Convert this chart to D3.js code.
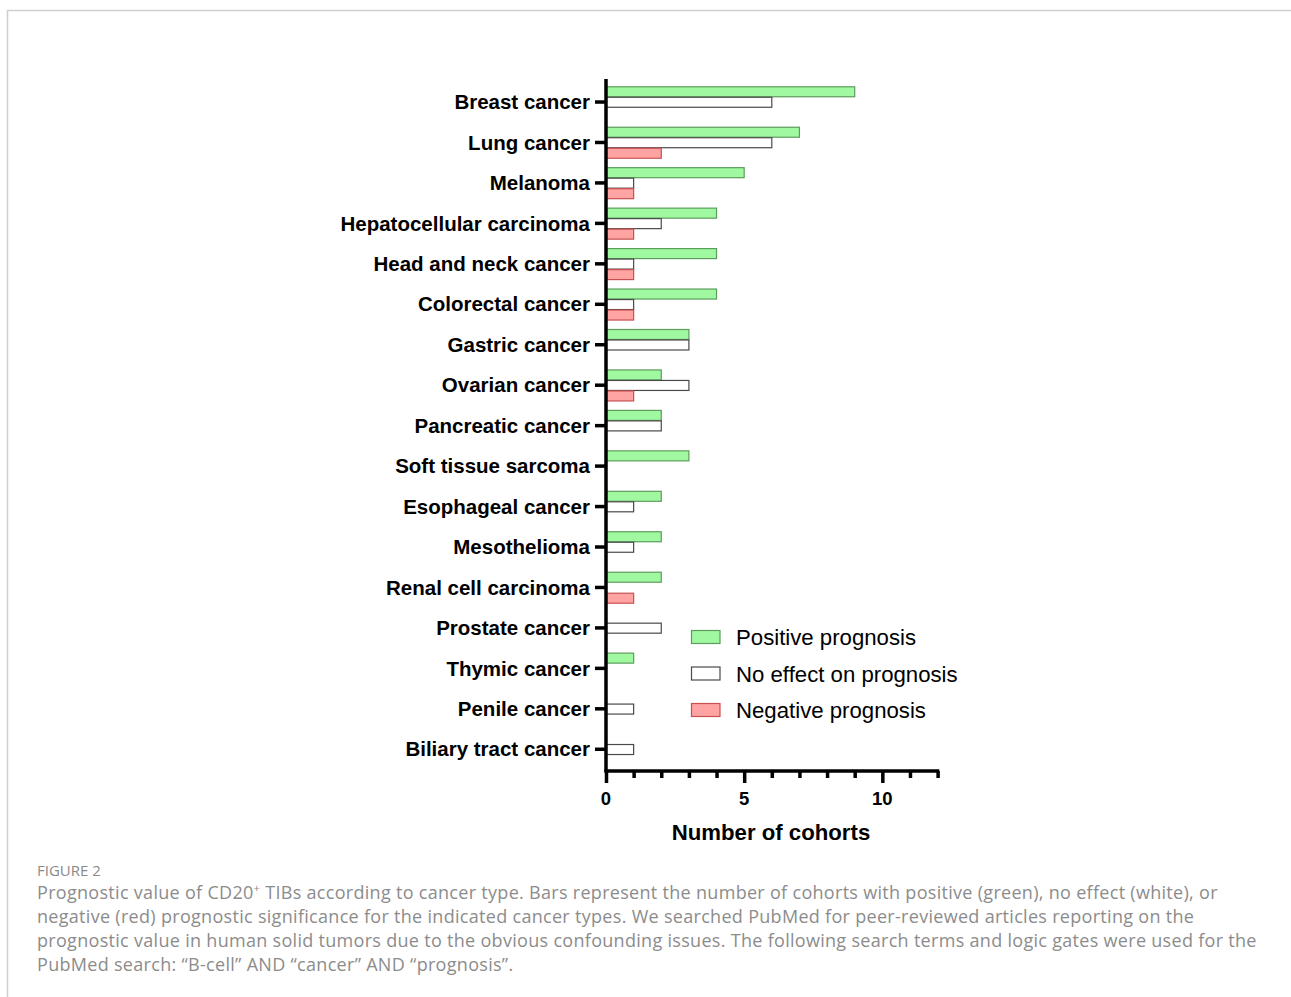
<!DOCTYPE html>
<html><head><meta charset="utf-8">
<script src="https://cdn.jsdelivr.net/npm/d3@7"></script>
<style>body{margin:0;background:#fff}</style>
</head><body>
<svg id="c" width="1291" height="997"></svg>
<script>
const categories = ["Breast cancer","Lung cancer","Melanoma","Hepatocellular carcinoma","Head and neck cancer","Colorectal cancer","Gastric cancer","Ovarian cancer","Pancreatic cancer","Soft tissue sarcoma","Esophageal cancer","Mesothelioma","Renal cell carcinoma","Prostate cancer","Thymic cancer","Penile cancer","Biliary tract cancer"];
const positive = [9,7,5,4,4,4,3,2,2,3,2,2,2,0,1,0,0];
const noEffect = [6,6,1,2,1,1,3,3,2,0,1,1,0,2,0,1,1];
const negative = [0,2,1,1,1,1,0,1,0,0,0,0,1,0,0,0,0];
const seriesNames = ["Positive prognosis","No effect on prognosis","Negative prognosis"];
const xTicks = [0,5,10];
const captionTitle = "FIGURE 2";
const captionLines = [
 "Prognostic value of CD20<sup>+</sup> TIBs according to cancer type. Bars represent the number of cohorts with positive (green), no effect (white), or",
 "negative (red) prognostic significance for the indicated cancer types. We searched PubMed for peer-reviewed articles reporting on the",
 "prognostic value in human solid tumors due to the obvious confounding issues. The following search terms and logic gates were used for the",
 "PubMed search: \u201cB-cell\u201d AND \u201ccancer\u201d AND \u201cprognosis\u201d."
];

const svg = d3.select("#c");
const fills = ["#a0f9a0","#ffffff","#ffa3a3"];
const strokes = ["#5c9c5c","#4a4a4a","#c85050"];
const series = [positive, noEffect, negative];
const FONT = "Liberation Sans, Arial, sans-serif";

// frame
svg.append("path").attr("d","M7.5,997 V10.5 H1291").attr("fill","none").attr("stroke","#cfcfcf").attr("stroke-width",1.5);

const x = d3.scaleLinear().domain([0,12]).range([606, 937.6]);
const y = d3.scaleBand().domain(categories).range([81.8, 769.5]).padding(0);
const sub = d3.scaleBand().domain([0,1,2]).range([-15.75, 15.75]).padding(0);

const g = svg.append("g");
series.forEach((vals, si) => {
  g.selectAll(null).data(categories.map((c,i)=>({c, v: vals[i]})).filter(d=>d.v>0))
   .enter().append("rect")
   .attr("x", x(0))
   .attr("y", d => y(d.c) + y.bandwidth()/2 + sub(si) + 0.5)
   .attr("width", d => x(d.v) - x(0))
   .attr("height", sub.bandwidth() - 0.5)
   .attr("fill", fills[si]).attr("stroke", strokes[si]).attr("stroke-width", 1.2);
});

// y axis
const yAx = svg.append("g").attr("transform","translate(606,0)")
  .call(d3.axisLeft(y).tickSize(11).tickPadding(5));
yAx.select(".domain").attr("stroke","#000").attr("stroke-width",3.5).attr("d","M0,79V771.5");
yAx.selectAll(".tick line").attr("stroke","#000").attr("stroke-width",3.5);
yAx.selectAll(".tick text").attr("font-family",FONT).attr("font-weight","bold").attr("font-size",20.5).attr("fill","#000").attr("dy","0.35em");

// x axis
const xAx = svg.append("g").attr("transform","translate(0,771)")
  .call(d3.axisBottom(x).tickValues(d3.range(0,13)).tickSize(7).tickFormat(""));
xAx.select(".domain").attr("stroke","#000").attr("stroke-width",3.5).attr("d","M604.3,0H939.3");
xAx.selectAll(".tick line").attr("stroke","#000").attr("stroke-width",3.5)
  .attr("y2", d => xTicks.includes(d) ? 12 : 7);
svg.append("g").selectAll("text").data(xTicks).enter().append("text")
  .attr("x", d=>x(d)).attr("y", 805).attr("text-anchor","middle")
  .attr("font-family",FONT).attr("font-weight","bold").attr("font-size",18.5)
  .text(d=>d);
svg.append("text").attr("x", 771).attr("y", 840).attr("text-anchor","middle")
  .attr("font-family",FONT).attr("font-weight","bold").attr("font-size",22.2)
  .text("Number of cohorts");

// legend
const leg = svg.append("g");
seriesNames.forEach((n,i)=>{
  const yy = 637 + i*36.5;
  leg.append("rect").attr("x",691.5).attr("y",yy-6.5).attr("width",28.5).attr("height",13)
    .attr("fill",fills[i]).attr("stroke",strokes[i]).attr("stroke-width",1.2);
  leg.append("text").attr("x",736).attr("y",yy+8).attr("font-family",FONT)
    .attr("font-size",22.2).text(n);
});

// caption
svg.append("text").attr("x",37).attr("y",876).attr("font-family","Open Sans, sans-serif").attr("font-size",15)
  .attr("fill","#8a8a8a").text(captionTitle);
const fo = svg.append("foreignObject").attr("x",37).attr("y",880).attr("width",1254).attr("height",110);
fo.append("xhtml:div").style("font-family","Open Sans, sans-serif").style("font-size","18px")
  .style("letter-spacing","0.3px")
  .style("line-height","24px").style("color","#8c8c8c").style("white-space","nowrap")
  .html(captionLines.join("<br>").replace("<sup>","<sup style='font-size:11px;vertical-align:7px;line-height:0'>"));
</script>
</body></html>
